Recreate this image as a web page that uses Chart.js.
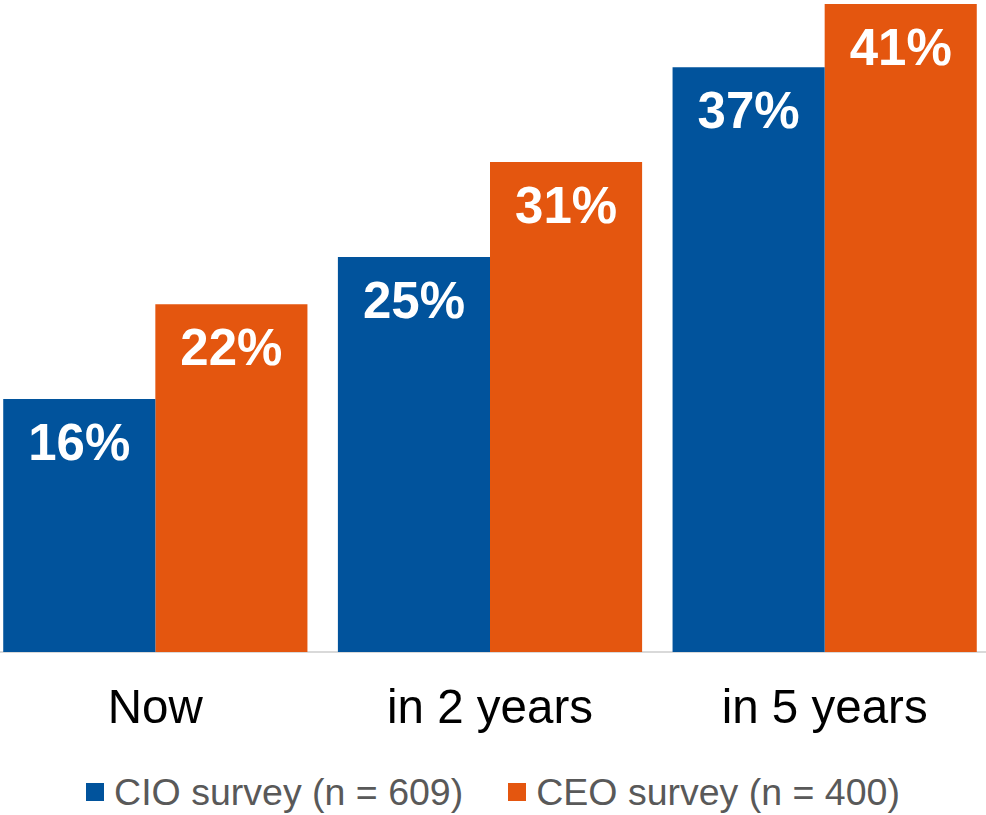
<!DOCTYPE html>
<html>
<head>
<meta charset="utf-8">
<script src="https://cdn.jsdelivr.net/npm/chart.js@4/dist/chart.umd.min.js"></script>
<style>
  html, body { margin: 0; padding: 0; background: #fff; overflow: hidden; width: 986px; height: 815px; }
  #wrap { position: absolute; left: -12px; top: 0; width: 1004px; height: 770px; }
  #legend {
    position: absolute; left: 0; top: 770px; width: 986px; height: 44px;
    display: flex; justify-content: center; align-items: center; gap: 45px;
    font-family: "Liberation Sans", Arial, sans-serif; font-size: 37.5px; color: #595959;
  }
  #legend .item { display: flex; align-items: center; }
  #legend .box { width: 18px; height: 18px; margin-right: 10px; }
</style>
</head>
<body>
<div id="wrap"><canvas id="chart"></canvas></div>
<div id="legend"></div>
<script>
// 資料
const categories = ['Now', 'in 2 years', 'in 5 years'];
const cioValues = [16, 25, 37];
const ceoValues = [22, 31, 41];
const seriesNames = ['CIO survey (n = 609)', 'CEO survey (n = 400)'];

const BLUE = '#01539C';
const ORANGE = '#E4560F';
const FONT = '"Liberation Sans", Arial, sans-serif';

// 柱內百分比標籤
const barLabels = {
    id: 'barLabels',
    afterDatasetsDraw(chart) {
        const ctx = chart.ctx;
        ctx.save();
        ctx.fillStyle = '#fff';
        ctx.font = 'bold 51px ' + FONT;
        ctx.textAlign = 'center';
        ctx.textBaseline = 'middle';
        chart.data.datasets.forEach((ds, i) => {
            chart.getDatasetMeta(i).data.forEach((bar, j) => {
                ctx.fillText(ds.data[j] + '%', bar.x, bar.y + 47);
            });
        });
        ctx.restore();
    }
};

const chart = new Chart(document.getElementById('chart'), {
    type: 'bar',
    data: {
        labels: categories,
        datasets: [
            { label: seriesNames[0], data: cioValues, backgroundColor: BLUE },
            { label: seriesNames[1], data: ceoValues, backgroundColor: ORANGE }
        ]
    },
    options: {
        responsive: true,
        maintainAspectRatio: false,
        animation: false,
        categoryPercentage: 0.909,
        barPercentage: 1,
        layout: { padding: { top: 4, left: 0, right: 0, bottom: 11 } },
        plugins: {
            legend: { display: false },
            tooltip: { enabled: false }
        },
        scales: {
            y: { display: false, min: 0, max: 41 },
            x: {
                grid: { display: false },
                border: { display: true, color: '#d9d9d9', width: 2 },
                ticks: {
                    color: '#000',
                    padding: 21,
                    font: { family: FONT, size: 47.5 }
                }
            }
        }
    },
    plugins: [barLabels]
});

// 圖例（依資料集產生）
const legendEl = document.getElementById('legend');
chart.data.datasets.forEach(ds => {
    const item = document.createElement('div');
    item.className = 'item';
    const box = document.createElement('span');
    box.className = 'box';
    box.style.background = ds.backgroundColor;
    const text = document.createElement('span');
    text.textContent = ds.label;
    item.appendChild(box);
    item.appendChild(text);
    legendEl.appendChild(item);
});
</script>
</body>
</html>
